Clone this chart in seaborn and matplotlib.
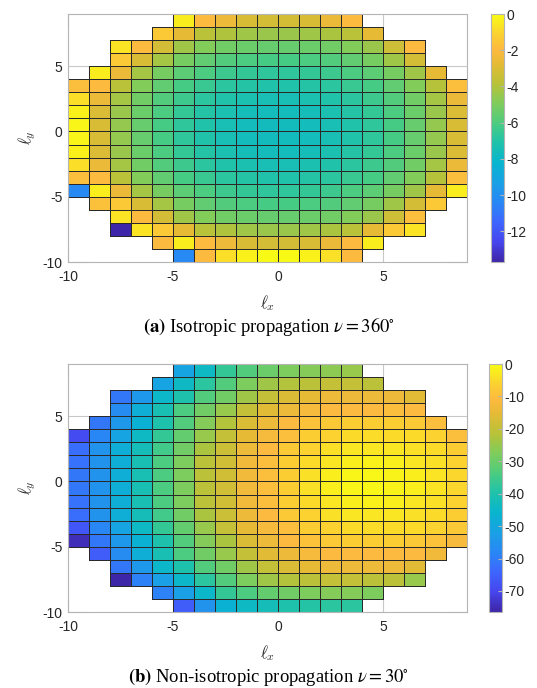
import matplotlib
matplotlib.use("Agg")
import matplotlib.pyplot as plt
from matplotlib.colors import LinearSegmentedColormap
import numpy as np
import pandas as pd
import seaborn as sns

# grid: cell left edges in x, rows from ly = 8 (top) down to ly = -10
lx = list(range(-10, 9))
ly = list(range(8, -11, -1))

# first filled column of every row (same support in both panels)
row_start = [-5, -6, -8, -8, -9, -10, -10, -10, -10, -10,
             -10, -10, -10, -10, -9, -8, -8, -6, -5]

# (a) isotropic propagation, values read row by row
iso_rows = [
    [-0.4, -1.9, -2.5, -3.1, -3.2, -3.2, -3.1, -2.6, -1.9],
    [-1.4, -2.7, -3.8, -4.0, -4.3, -4.4, -4.4, -4.3, -4.1, -3.8, -2.7],
    [-0.6, -1.9, -3.2, -4.3, -4.9, -5.2, -5.4, -5.5, -5.5, -5.4, -5.2, -4.9, -4.4, -3.3, -1.9],
    [-1.4, -3.1, -4.2, -5.1, -5.6, -5.9, -6.1, -6.2, -6.2, -6.1, -5.9, -5.6, -5.1, -4.3, -3.2],
    [-0.4, -2.6, -4.2, -5.1, -5.7, -6.1, -6.4, -6.6, -6.7, -6.7, -6.6, -6.4, -6.1, -5.7, -5.1, -4.3, -2.7],
    [-1.8, -1.9, -3.8, -4.9, -5.6, -6.2, -6.5, -6.8, -7.0, -7.1, -7.1, -7.0, -6.8, -6.5, -6.2, -5.6, -4.9, -3.9, -1.8],
    [-0.8, -2.6, -4.2, -5.2, -5.9, -6.4, -6.8, -7.1, -7.3, -7.4, -7.4, -7.3, -7.1, -6.8, -6.4, -5.9, -5.2, -4.2, -2.6],
    [-0.3, -3.0, -4.4, -5.4, -6.1, -6.6, -7.0, -7.3, -7.5, -7.6, -7.6, -7.5, -7.3, -7.0, -6.6, -6.1, -5.4, -4.4, -3.0],
    [-0.2, -3.1, -4.5, -5.5, -6.2, -6.7, -7.1, -7.4, -7.6, -7.7, -7.7, -7.6, -7.4, -7.1, -6.7, -6.2, -5.5, -4.5, -3.1],
    [-0.2, -3.1, -4.5, -5.5, -6.2, -6.7, -7.1, -7.4, -7.6, -7.7, -7.7, -7.6, -7.4, -7.1, -6.7, -6.2, -5.5, -4.5, -3.1],
    [-0.3, -3.0, -4.4, -5.4, -6.1, -6.6, -7.0, -7.3, -7.5, -7.6, -7.6, -7.5, -7.3, -7.0, -6.6, -6.1, -5.4, -4.4, -3.0],
    [-0.8, -2.6, -4.2, -5.2, -5.9, -6.4, -6.8, -7.1, -7.3, -7.4, -7.4, -7.3, -7.1, -6.8, -6.4, -5.9, -5.2, -4.2, -2.6],
    [-1.8, -1.9, -3.8, -4.9, -5.6, -6.2, -6.5, -6.8, -7.0, -7.1, -7.1, -7.0, -6.8, -6.5, -6.2, -5.6, -4.9, -3.9, -1.8],
    [-10.3, -0.4, -2.6, -4.2, -5.1, -5.7, -6.1, -6.4, -6.6, -6.7, -6.7, -6.6, -6.4, -6.1, -5.7, -5.1, -4.3, -2.7, -0.4],
    [-1.7, -1.4, -3.1, -4.2, -5.1, -5.6, -5.9, -6.1, -6.2, -6.2, -6.1, -5.9, -5.6, -5.1, -4.3, -3.2, -1.4],
    [-0.6, -1.9, -3.2, -4.3, -4.9, -5.2, -5.4, -5.5, -5.5, -5.4, -5.2, -4.9, -4.4, -3.3, -1.8],
    [-13.7, -0.6, -1.4, -2.7, -3.8, -4.0, -4.3, -4.4, -4.4, -4.3, -4.1, -3.8, -2.7, -1.4, -0.6],
    [-1.9, -0.4, -1.9, -2.5, -3.1, -3.2, -3.2, -3.1, -2.6, -1.9, -0.4],
    [-10.3, -1.9, -0.8, -0.3, -0.1, -0.1, -0.3, -0.7, -1.9],
]

# (b) non-isotropic propagation
aniso_rows = [
    [-51, -44, -37, -33, -30, -28, -27, -26, -25],
    [-51, -44, -38, -33, -28, -24, -22, -21, -20, -20, -21],
    [-61, -54, -45, -40, -33, -29, -24, -20, -17, -15, -14, -14, -14, -14, -16],
    [-57, -48, -41, -34, -29, -25, -20, -16, -14, -12, -11, -11, -11, -10, -11],
    [-61, -54, -47, -40, -33, -27, -22, -17, -14, -11, -9, -8, -7, -7, -7, -8, -10],
    [-69, -58, -51, -44, -37, -31, -25, -20, -15, -12, -10, -7, -6, -5, -4.5, -5, -5, -6, -10],
    [-63, -55, -48, -42, -35, -29, -23, -19, -14, -11, -8, -6, -4, -3, -3, -3, -4, -5, -7],
    [-62, -55, -48, -41, -34, -28, -21, -18, -13, -10, -7, -5, -3, -2, -1.5, -2, -3, -4, -6],
    [-61, -55, -48, -41, -34, -28, -21, -18, -13, -10, -7, -4, -2, -1, -0.8, -1.2, -2, -3.5, -5.5],
    [-61, -55, -48, -41, -34, -28, -21, -18, -13, -10, -7, -4, -2, -1, -0.8, -1.2, -2, -3.5, -5.5],
    [-62, -55, -48, -41, -34, -28, -21, -18, -13, -10, -7, -5, -3, -2, -1.5, -2, -3, -4, -6],
    [-63, -55, -48, -42, -35, -29, -23, -19, -14, -11, -8, -6, -4, -3, -3, -3, -4, -5, -7],
    [-67, -58, -51, -44, -37, -31, -25, -20, -15, -12, -10, -7, -6, -5, -4.5, -5, -5, -6, -8],
    [-75, -61, -54, -47, -40, -33, -27, -23, -17, -14, -11, -9, -8, -7, -7, -7, -8, -9, -12],
    [-66, -57, -48, -41, -34, -29, -25, -20, -16, -14, -12, -11, -11, -11, -11, -11, -13],
    [-61, -54, -45, -40, -33, -29, -24, -20, -17, -15, -14, -14, -14, -14, -16],
    [-76.5, -59, -52, -45, -38, -33, -28, -24, -22, -21, -20, -20, -21, -21, -25],
    [-59, -52, -45, -37, -34, -31, -29, -28, -27, -27, -28],
    [-66, -55, -47, -44, -42, -40, -39, -38, -38],
]

x_ticks = [-10, -5, 0, 5]
y_ticks = [5, 0, -5, -10]
iso_cbar_ticks = [0, -2, -4, -6, -8, -10, -12]
aniso_cbar_ticks = [0, -10, -20, -30, -40, -50, -60, -70]
captions = [r"$\mathbf{(a)}$ Isotropic propagation $\nu = 360^{\circ}$",
            r"$\mathbf{(b)}$ Non-isotropic propagation $\nu = 30^{\circ}$"]

# parula-like colormap
parula_anchors = [
    (0.00, (0.242, 0.150, 0.660)),
    (0.08, (0.275, 0.270, 0.930)),
    (0.16, (0.240, 0.400, 0.995)),
    (0.24, (0.160, 0.530, 0.960)),
    (0.32, (0.100, 0.630, 0.900)),
    (0.40, (0.030, 0.710, 0.810)),
    (0.48, (0.120, 0.760, 0.670)),
    (0.56, (0.300, 0.800, 0.500)),
    (0.64, (0.500, 0.800, 0.360)),
    (0.72, (0.720, 0.760, 0.220)),
    (0.80, (0.900, 0.730, 0.210)),
    (0.86, (0.990, 0.730, 0.250)),
    (0.92, (0.985, 0.820, 0.190)),
    (1.00, (0.977, 0.984, 0.081)),
]
parula = LinearSegmentedColormap.from_list("parula", parula_anchors)

plt.rcParams["font.family"] = ["Liberation Sans", "DejaVu Sans"]
plt.rcParams["axes.unicode_minus"] = False

W, H = 537, 688
SPINE = "#b4b4b4"
TEXT = "#262626"


def build_frame(rows):
    grid = np.full((len(ly), len(lx)), np.nan)
    for i, (start, vals) in enumerate(zip(row_start, rows)):
        j = lx.index(start)
        grid[i, j:j + len(vals)] = vals
    return pd.DataFrame(grid, index=ly, columns=lx)


def draw_panel(fig, top, cbar_left, rows, cbar_ticks, caption):
    ax = fig.add_axes([68 / W, 1 - (top + 248) / H, 399 / W, 248 / H])
    cax = fig.add_axes([cbar_left / W, 1 - (top + 248) / H, 13 / W, 248 / H])
    df = build_frame(rows)
    sns.heatmap(df, ax=ax, cbar_ax=cax, cmap=parula,
                vmin=np.nanmin(df.values), vmax=0,
                linewidths=0.5, linecolor="#2a2a2a",
                xticklabels=False, yticklabels=False)

    # no edges on empty cells
    mesh = ax.collections[0]
    ec = np.tile([0.16, 0.16, 0.16, 1.0], (df.size, 1))
    ec[np.isnan(df.values).ravel(), 3] = 0
    mesh.set_edgecolors(ec)

    ax.set_xticks([x - lx[0] for x in x_ticks])
    ax.set_xticklabels([str(x) for x in x_ticks])
    ax.set_yticks([ly[0] + 1 - y for y in y_ticks])
    ax.set_yticklabels([str(y) for y in y_ticks], rotation=0)
    ax.set_axisbelow(True)
    ax.tick_params(direction="in", top=True, right=True, color="#c8c8c8",
                   labelsize=10, labelcolor=TEXT, width=0.8)
    ax.tick_params(axis="x", length=9.5, pad=6)
    ax.tick_params(axis="y", length=15, pad=4)
    for sp in ax.spines.values():
        sp.set_visible(True)
        sp.set_color(SPINE)
        sp.set_linewidth(0.8)

    ax.set_xlabel(r"$\ell_x$", fontsize=12, color=TEXT, math_fontfamily="cm")
    ax.set_ylabel(r"$\ell_y$", fontsize=12, color=TEXT, math_fontfamily="cm")
    ax.xaxis.set_label_coords(0.5, -41 / 248)
    ax.xaxis.label.set_va("center")
    ax.yaxis.set_label_coords(-41 / 399, 0.5)
    ax.yaxis.label.set_va("center")

    cbar = mesh.colorbar
    cbar.set_ticks(cbar_ticks)
    cbar.set_ticklabels([str(t) for t in cbar_ticks])
    cbar.outline.set_edgecolor(SPINE)
    cbar.outline.set_linewidth(0.8)
    cax.tick_params(direction="in", length=3, color=SPINE, labelsize=10,
                    labelcolor=TEXT, pad=2)

    fig.text(0.5, 1 - (top + 318) / H, caption, ha="center", va="baseline",
             fontsize=13.4, family="Liberation Serif", color="black",
             math_fontfamily="stix")


def main():
    fig = plt.figure(figsize=(W / 100, H / 100), dpi=100)
    draw_panel(fig, 14, 491, iso_rows, iso_cbar_ticks, captions[0])
    draw_panel(fig, 364, 489, aniso_rows, aniso_cbar_ticks, captions[1])
    fig.savefig("out.png", dpi=100, facecolor="white")


if __name__ == "__main__":
    main()
